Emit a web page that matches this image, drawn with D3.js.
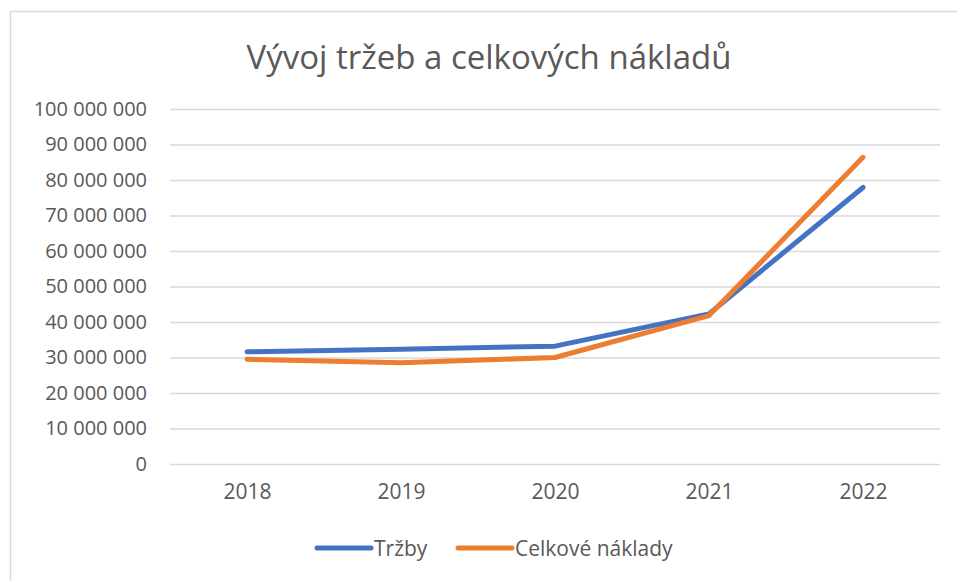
<!DOCTYPE html>
<html>
<head>
<meta charset="utf-8">
<script src="https://cdn.jsdelivr.net/npm/d3@7"></script>
<style>
  body { margin: 0; background: #fff; }
  svg text { fill: #595959; }
</style>
</head>
<body>
<div class="chart"></div>
<script>
// data
var years = ['2018', '2019', '2020', '2021', '2022'];
var trzby = [31600000, 32300000, 33200000, 42300000, 77900000];
var naklady = [29500000, 28500000, 30000000, 41800000, 86400000];
var yTicks = [0, 10000000, 20000000, 30000000, 40000000, 50000000, 60000000, 70000000, 80000000, 90000000, 100000000];
var seriesNames = ['Tržby', 'Celkové náklady'];
var colors = ['#4472C4', '#ED7D31'];

var width = 957,
    height = 581;

var plot = { left: 170, right: 940, top: 109, bottom: 464 };

var font = '"Open Sans", "Noto Sans", sans-serif';

var svg = d3.select('.chart').append('svg')
  .attr('width', width)
  .attr('height', height);

// chart area frame (only top and left edges visible)
svg.append('path')
  .attr('d', 'M10.5,' + height + 'V11.5H' + width)
  .attr('fill', 'none')
  .attr('stroke', '#d9d9d9')
  .attr('stroke-width', 1.5);

svg.append('text')
  .attr('x', 489)
  .attr('y', 69)
  .attr('text-anchor', 'middle')
  .style('font-family', font)
  .style('font-size', '33px')
  .text('Vývoj tržeb a celkových nákladů');

var xScale = d3.scalePoint()
  .domain(years)
  .range([plot.left, plot.right])
  .padding(0.5);

var yScale = d3.scaleLinear()
  .domain([0, 100000000])
  .range([plot.bottom, plot.top]);

var fmt = function(d) {
  return d3.format(',')(d).replace(/,/g, ' ');
};

// gridlines + y labels
var yAxis = d3.axisLeft(yScale)
  .tickValues(yTicks)
  .tickSize(-(plot.right - plot.left))
  .tickPadding(23)
  .tickFormat(fmt);

var yG = svg.append('g')
  .attr('transform', 'translate(' + plot.left + ',0)')
  .call(yAxis);
yG.select('.domain').remove();
yG.selectAll('.tick line')
  .attr('stroke', '#d9d9d9')
  .attr('stroke-width', 1.5);
yG.selectAll('.tick text')
  .style('font-family', font)
  .style('font-size', '20px')
  .style('fill', '#595959');

// x axis
var xAxis = d3.axisBottom(xScale)
  .tickSize(0)
  .tickPadding(20);

var xG = svg.append('g')
  .attr('transform', 'translate(0,' + plot.bottom + ')')
  .call(xAxis);
xG.select('.domain').remove();
xG.selectAll('.tick text')
  .style('font-family', font)
  .style('font-size', '21px')
  .style('fill', '#595959');

var line = d3.line()
  .x(function(d, i) { return xScale(years[i]); })
  .y(function(d) { return yScale(d); });

[trzby, naklady].forEach(function(s, i) {
  svg.append('path')
    .datum(s)
    .attr('d', line)
    .attr('fill', 'none')
    .attr('stroke', colors[i])
    .attr('stroke-width', 5)
    .attr('stroke-linecap', 'round')
    .attr('stroke-linejoin', 'round');
});

// legend
var legendX = [315, 456];
var legend = svg.append('g');
seriesNames.forEach(function(name, i) {
  legend.append('line')
    .attr('x1', legendX[i] + 2)
    .attr('x2', legendX[i] + 56)
    .attr('y1', 548)
    .attr('y2', 548)
    .attr('stroke', colors[i])
    .attr('stroke-width', 5)
    .attr('stroke-linecap', 'round');
  legend.append('text')
    .attr('x', legendX[i] + 59)
    .attr('y', 556)
    .style('font-family', font)
    .style('font-size', '21px')
    .text(name);
});
</script>
</body>
</html>
